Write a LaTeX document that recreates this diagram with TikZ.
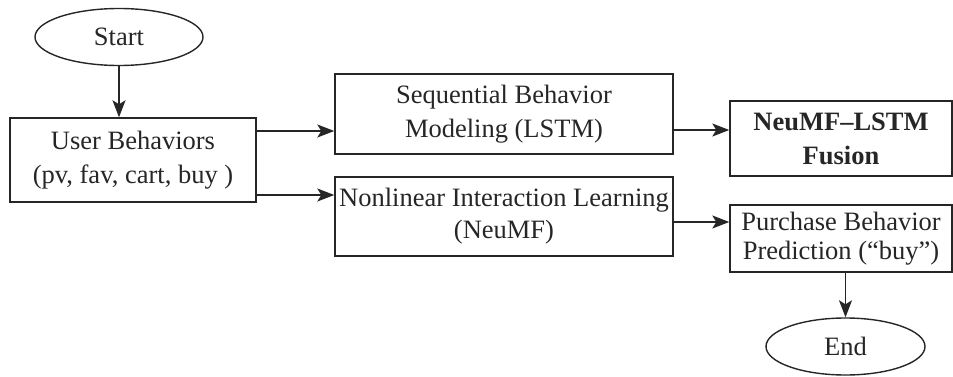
\documentclass[tikz,border=0pt]{standalone}
\usepackage{fontspec}
\setmainfont{Liberation Serif}
\usepackage{tikz}
\usetikzlibrary{arrows.meta,shapes.geometric}

\begin{document}
\begin{tikzpicture}[x=1pt,y=-1pt,line width=1.4pt,draw=black!85,text=black!85,
  box/.style={draw,rectangle,inner sep=0pt,align=center,font=\fontsize{26.5}{34}\selectfont},
  term/.style={draw,ellipse,inner sep=0pt,font=\fontsize{26.5}{34}\selectfont},
  arr/.style={-{Stealth[length=17pt,width=13pt,inset=4pt]}}]
\useasboundingbox (0,0) rectangle (953,377);
\node[term,minimum width=168,minimum height=57] (start) at (119,37) {Start};
\node[box,minimum width=246,minimum height=84] (user) at (133,160) {User Behaviors\\(pv, fav, cart, buy )};
\node[box,minimum width=338,minimum height=80] (seq) at (504,114) {Sequential Behavior\\Modeling (LSTM)};
\node[box,minimum width=338,minimum height=79] (nlin) at (504,216.5) {Nonlinear Interaction Learning\\[-2pt](NeuMF)};
\node[box,minimum width=222,minimum height=75,font=\fontsize{26.5}{34}\selectfont\bfseries] (fuse) at (841,138.5) {NeuMF--LSTM\\Fusion};
\node[box,minimum width=222,minimum height=67] (pred) at (841,238.5) {Purchase Behavior\\[-5pt]Prediction (``buy'')};
\node[term,minimum width=159,minimum height=57] (end) at (845.5,346.5) {End};
% connectors
\draw[arr] (start.south) -- (start.south |- user.north);
\draw[arr] (user.east |- 0,131) -- (seq.west |- 0,131);
\draw[arr] (user.east |- 0,195) -- (nlin.west |- 0,195);
\draw[arr] (seq.east |- 0,130) -- (fuse.west |- 0,130);
\draw[arr] (nlin.east |- 0,222) -- (pred.west |- 0,222);
\draw[arr] (end.north |- pred.south) -- (end.north);
\end{tikzpicture}
\end{document}
